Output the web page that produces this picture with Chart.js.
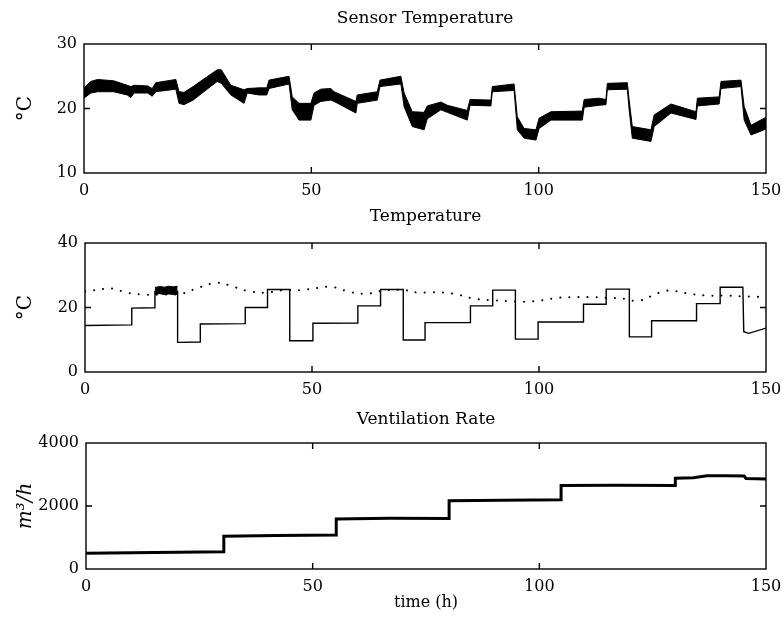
<!DOCTYPE html>
<html>
<head>
<meta charset="utf-8">
<script src="https://cdn.jsdelivr.net/npm/chart.js@4/dist/chart.umd.min.js"></script>
<style>
  body { margin: 0; background: #fff; }
  #wrap { position: relative; width: 782px; height: 621px; }
  canvas { position: absolute; left: 0; }
</style>
</head>
<body>
<div id="wrap">
  <canvas id="sensor" width="782" height="200" style="top:0"></canvas>
  <canvas id="temp" width="782" height="200" style="top:200px"></canvas>
  <canvas id="vent" width="782" height="221" style="top:400px"></canvas>
</div>
<script>
// sensor temperature band (min / max over all sensors), degC
const sensorTime  = [0, 1.5, 3, 6.5, 9.5, 10.3, 11, 14, 15, 15.8, 20.2, 20.9, 22, 24, 26, 29.3, 30.2, 32.3, 35.2, 35.9, 38.5, 40.2, 40.7, 45.1, 45.8, 47.3, 49.9, 50.6, 52.1, 54.3, 55, 59.8, 60.1, 64.5, 65.1, 69.7, 70.4, 72.2, 74.8, 75.5, 78.5, 79.9, 84.3, 84.9, 89.5, 89.8, 94.6, 95.3, 96.8, 99.4, 100.1, 102.7, 109.6, 110, 113.3, 114.8, 115.1, 119.5, 119.9, 120.6, 124.7, 125.4, 129.1, 134.6, 134.9, 139.7, 140.1, 144.5, 145.2, 146.7, 149.6, 150]
const sensorUpper = [23.2, 24.2, 24.5, 24.3, 23.6, 23.4, 23.6, 23.5, 23.1, 24.0, 24.5, 22.6, 22.5, 23.4, 24.4, 26.0, 26.0, 23.6, 22.9, 23.1, 23.2, 23.2, 24.4, 25.0, 21.8, 20.8, 20.8, 22.4, 23.0, 23.1, 22.6, 21.1, 22.1, 22.6, 24.4, 25.0, 22.4, 19.5, 19.4, 20.4, 21.0, 20.5, 19.7, 21.4, 21.3, 23.4, 23.8, 18.7, 16.9, 16.7, 18.5, 19.5, 19.6, 21.4, 21.6, 21.4, 23.9, 24.0, 21.3, 17.2, 16.7, 19.0, 20.7, 19.5, 21.6, 21.8, 24.2, 24.4, 20.3, 17.4, 18.5, 18.6]
const sensorLower = [21.6, 22.4, 22.6, 22.6, 22.1, 21.7, 22.4, 22.4, 21.9, 22.6, 23.0, 20.8, 20.6, 21.3, 22.4, 24.2, 23.9, 22.1, 20.8, 22.4, 22.1, 22.1, 23.1, 23.8, 19.8, 18.2, 18.2, 20.5, 21.1, 21.3, 21.1, 19.3, 20.8, 21.3, 23.4, 23.8, 20.3, 17.2, 16.7, 18.4, 19.8, 19.4, 18.2, 20.5, 20.4, 22.6, 22.8, 16.7, 15.4, 15.1, 16.9, 18.2, 18.2, 20.2, 20.5, 20.6, 22.9, 23.0, 19.8, 15.4, 14.9, 17.2, 19.3, 18.3, 20.4, 20.7, 23.1, 23.4, 18.2, 15.9, 16.7, 16.9]

// supply air temperature (solid), degC
const airTime = [0, 10.3, 10.3, 15.4, 15.4, 20.4, 20.4, 25.4, 25.4, 35.3, 35.3, 40.2, 40.2, 45.1, 45.1, 50.2, 50.2, 60.1, 60.1, 65.1, 65.1, 70.1, 70.1, 74.9, 74.9, 84.9, 84.9, 89.8, 89.8, 94.8, 94.8, 99.8, 99.8, 109.8, 109.8, 114.8, 114.8, 119.9, 119.9, 124.8, 124.8, 134.7, 134.7, 139.9, 139.9, 144.9, 145.1, 146.2, 150]
const airTemp = [14.4, 14.6, 19.8, 19.9, 25.0, 25.0, 9.2, 9.3, 14.9, 15.0, 20.0, 20.0, 25.6, 25.6, 9.7, 9.7, 15.1, 15.2, 20.5, 20.5, 25.6, 25.6, 9.9, 9.9, 15.3, 15.3, 20.5, 20.5, 25.4, 25.4, 10.2, 10.2, 15.5, 15.5, 21.0, 21.0, 25.7, 25.7, 10.9, 10.9, 15.9, 15.9, 21.2, 21.2, 26.3, 26.3, 12.5, 12.0, 13.6]
// noisy stretch of the supply air between 15 h and 20 h
const airBandTime  = [15.4, 16.5, 17.5, 18.5, 19.5, 20.4]
const airBandUpper = [26.2, 26.5, 26.3, 26.6, 26.4, 26.6]
const airBandLower = [24.1, 24.3, 24.0, 24.2, 24.0, 24.1]

// indoor temperature (dotted), degC
const indoorTime = [0, 0.7, 4.4, 6.6, 8.8, 13.2, 16, 21.3, 24.9, 29.3, 32.3, 35.9, 39.6, 44, 47.7, 51.3, 54.3, 58.7, 62.3, 66, 70.4, 73.3, 75.5, 79.2, 82.1, 85.8, 89.5, 93.1, 96.8, 100.5, 104.1, 107.8, 111.5, 115.1, 118.8, 121.7, 124.7, 127.6, 129.8, 133.5, 137.1, 140.8, 144.4, 148.1, 150]
const indoorTemp = [25.0, 25.1, 25.8, 25.8, 24.7, 24.0, 24.0, 24.3, 26.1, 27.7, 26.6, 25.1, 24.6, 25.4, 25.4, 26.1, 26.4, 24.7, 24.3, 25.3, 25.4, 24.6, 24.7, 24.6, 24.0, 22.7, 22.3, 22.0, 21.8, 22.2, 23.0, 23.2, 23.2, 23.0, 22.7, 22.0, 23.5, 25.1, 25.1, 24.2, 23.7, 23.7, 23.5, 23.3, 23.3]

// ventilation rate, m3/h
const ventTime = [0, 15, 30.4, 30.4, 42, 55.2, 55.2, 67, 80.1, 80.1, 92, 104.8, 104.8, 117, 130, 130, 134, 137, 141, 145.2, 145.6, 150]
const ventRate = [500, 520, 550, 1040, 1060, 1080, 1590, 1610, 1600, 2170, 2180, 2200, 2650, 2660, 2650, 2880, 2900, 2960, 2960, 2950, 2870, 2860]

const timeTicks = [0, 50, 100, 150]
const sensorTicks = [10, 20, 30]
const tempTicks = [0, 20, 40]
const ventTicks = [0, 2000, 4000]

const SERIF = "'DejaVu Serif', 'Liberation Serif', serif"

function pts(xs, ys) {
  return xs.map((x, i) => ({x: x, y: ys[i]}))
}

// box round the plot area with small inward ticks
const framePlugin = {
  id: 'frame',
  afterDatasetsDraw(chart) {
    const {ctx, chartArea: a, scales: {x, y}} = chart
    ctx.save()
    ctx.strokeStyle = '#000'
    ctx.lineWidth = 1.4
    ctx.strokeRect(a.left, a.top, a.right - a.left, a.bottom - a.top)
    ctx.beginPath()
    x.ticks.forEach(t => {
      if (t.value <= x.min || t.value >= x.max) return
      const px = x.getPixelForValue(t.value)
      ctx.moveTo(px, a.bottom); ctx.lineTo(px, a.bottom - 6)
      ctx.moveTo(px, a.top); ctx.lineTo(px, a.top + 6)
    })
    y.ticks.forEach(t => {
      if (t.value <= y.min || t.value >= y.max) return
      const py = y.getPixelForValue(t.value)
      ctx.moveTo(a.left, py); ctx.lineTo(a.left + 6, py)
      ctx.moveTo(a.right, py); ctx.lineTo(a.right - 6, py)
    })
    ctx.stroke()
    ctx.restore()
  }
}

function panel(id, p) {
  return new Chart(document.getElementById(id), {
    type: 'line',
    data: { datasets: p.datasets },
    options: {
      responsive: false,
      animation: false,
      devicePixelRatio: 1,
      layout: { padding: { left: 0, right: 16, top: 0, bottom: 0 } },
      elements: { point: { radius: 0 }, line: { tension: 0 } },
      plugins: {
        legend: { display: false },
        tooltip: { enabled: false },
        title: {
          display: true,
          fullSize: false,
          text: p.title,
          color: '#000',
          font: { family: SERIF, size: 17, weight: 'normal' },
          padding: { top: p.titleTop, bottom: p.titleBottom }
        }
      },
      scales: {
        x: {
          type: 'linear',
          min: 0, max: 150,
          afterBuildTicks: s => { s.ticks = timeTicks.map(v => ({value: v})) },
          // fixed height, and no extra side room for the end labels
          afterFit: s => { s.height = p.xHeight; s.paddingLeft = 0; s.paddingRight = 0 },
          grid: { display: false, drawTicks: false },
          border: { display: false },
          ticks: { color: '#000', font: { family: SERIF, size: 16 }, padding: 8, maxRotation: 0, callback: v => String(v) },
          title: p.xTitle ? {
            display: true, text: p.xTitle, color: '#000',
            font: { family: SERIF, size: 16 }, padding: { top: 0, bottom: 9 }
          } : { display: false }
        },
        y: {
          type: 'linear',
          min: p.yTicks[0], max: p.yTicks[p.yTicks.length - 1],
          afterBuildTicks: s => { s.ticks = p.yTicks.map(v => ({value: v})) },
          afterFit: s => { s.width = p.left },
          grid: { display: false, drawTicks: false },
          border: { display: false },
          ticks: { color: '#000', font: { family: SERIF, size: 16 }, padding: 7, callback: v => String(v) },
          title: {
            display: true, text: p.yTitle, color: '#000',
            font: { family: SERIF, size: 20, style: p.yItalic ? 'italic' : 'normal' },
            padding: { top: 14, bottom: 0 }
          }
        }
      }
    },
    plugins: [framePlugin]
  })
}

panel('sensor', {
  title: 'Sensor Temperature', titleTop: 8, titleBottom: 15.6,
  left: 84, xHeight: 27, yTicks: sensorTicks, yTitle: '°C',
  datasets: [
    { data: pts(sensorTime, sensorUpper), borderColor: '#000', borderWidth: 1, backgroundColor: '#000', fill: false },
    { data: pts(sensorTime, sensorLower), borderColor: '#000', borderWidth: 1, backgroundColor: '#000', fill: '-1' }
  ]
})

panel('temp', {
  title: 'Temperature', titleTop: 6, titleBottom: 16.6,
  left: 85, xHeight: 28, yTicks: tempTicks, yTitle: '°C',
  datasets: [
    { data: pts(indoorTime, indoorTemp), borderColor: '#000', borderWidth: 2, borderDash: [0.1, 9], borderCapStyle: 'round', tension: 0.4, fill: false },
    { data: pts(airTime, airTemp), borderColor: '#000', borderWidth: 1.4, fill: false },
    { data: pts(airBandTime, airBandUpper), borderColor: '#000', borderWidth: 1, backgroundColor: '#000', fill: false },
    { data: pts(airBandTime, airBandLower), borderColor: '#000', borderWidth: 1, backgroundColor: '#000', fill: '-1' }
  ]
})

panel('vent', {
  title: 'Ventilation Rate', titleTop: 9, titleBottom: 13.6,
  left: 86, xHeight: 52, yTicks: ventTicks, yTitle: 'm³/h', yItalic: true,
  xTitle: 'time (h)',
  datasets: [
    { data: pts(ventTime, ventRate), borderColor: '#000', borderWidth: 3, fill: false }
  ]
})
</script>
</body>
</html>
